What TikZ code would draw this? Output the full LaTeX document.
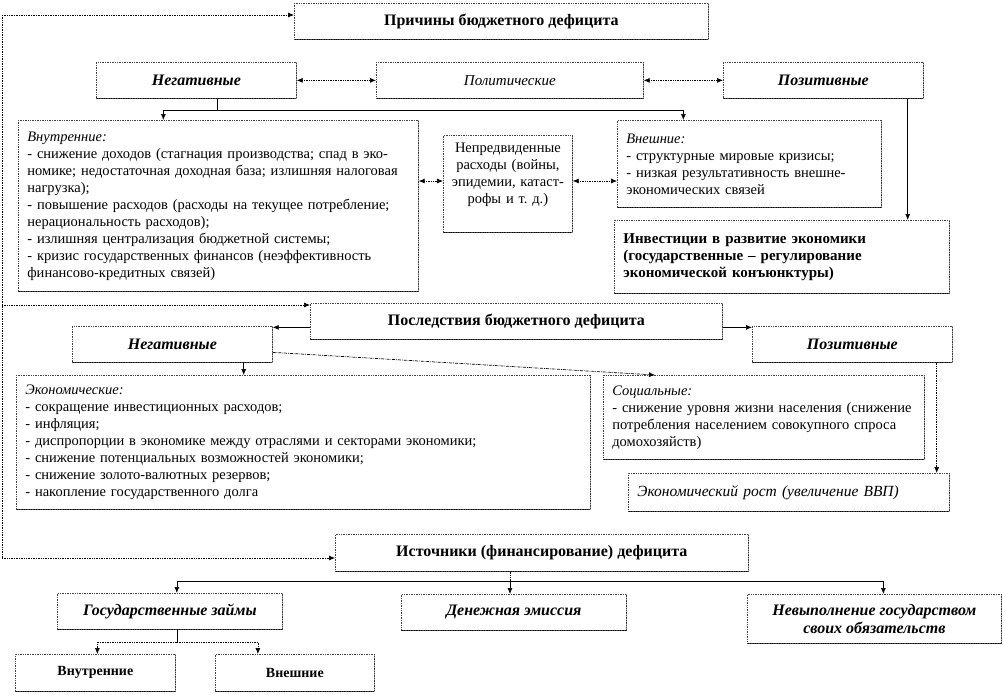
\documentclass[tikz,border=0pt]{standalone}
\usepackage{fontspec}
\setmainfont{Liberation Serif}
\usetikzlibrary{arrows.meta,calc}

\begin{document}
\begin{tikzpicture}[
  x=1pt, y=-1pt,
  font=\fontsize{14.5}{17}\selectfont,
  box/.style={anchor=north west, draw=black!75, densely dotted, line width=0.7pt, inner sep=0pt,
    path picture={\draw[solid, black, line width=1.6pt]
      (path picture bounding box.north east) -- (path picture bounding box.south east)
      -- (path picture bounding box.south west);}},
  head/.style={box, font=\fontsize{16}{18}\selectfont\bfseries},
  kind/.style={box, font=\fontsize{16}{18}\selectfont\bfseries\itshape},
  list/.style={box, align=left, inner xsep=9pt, inner ysep=7pt},
  link/.style={-{Latex[length=6pt,width=5pt]}, line width=0.7pt},
  dlink/.style={link, densely dotted},
  both/.style={{Latex[length=6pt,width=5pt]}-{Latex[length=6pt,width=5pt]}, line width=0.7pt, densely dotted},
]
\useasboundingbox (0,0) rectangle (1003,694);

% Causes
\node[head, minimum width=414pt, minimum height=36pt] (causes) at (294,3) {Причины бюджетного дефицита};
\node[kind, minimum width=200pt, minimum height=36pt] (neg) at (96,62) {Негативные};
\node[box, font=\fontsize{15}{17}\selectfont\itshape, minimum width=267pt, minimum height=36pt] (pol) at (376,62) {Политические};
\node[kind, minimum width=200pt, minimum height=36pt] (pos) at (723,62) {Позитивные};

\node[list, text width=382pt, minimum height=171pt] (inner) at (18,120) {\textit{Внутренние:}\\
- снижение доходов (стагнация производства; спад в эко-\\
номике; недостаточная доходная база; излишняя налоговая\\
нагрузка);\\
- повышение расходов (расходы на текущее потребление;\\
нерациональность расходов);\\
- излишняя централизация бюджетной системы;\\
- кризис государственных финансов (неэффективность\\
финансово-кредитных связей)};
\node[box, align=center, text width=129pt, minimum height=97pt, text depth=73pt] (unf) at (443,135) {Непредвиденные\\ расходы (войны,\\ эпидемии, катаст-\\ рофы и т.~д.)};
\node[list, text width=246pt, minimum height=87pt] (outer) at (617,120) {\textit{Внешние:}\\
- структурные мировые кризисы;\\
- низкая результативность внешне-\\
экономических связей};
\node[list, font=\fontsize{15}{17}\selectfont\bfseries, text width=317pt, minimum height=73pt] (invest) at (614,220) {Инвестиции в развитие экономики\\
(государственные – регулирование\\
экономической конъюнктуры)};

% Effects
\node[head, minimum width=412pt, minimum height=36pt] (effects) at (310,303) {Последствия бюджетного дефицита};
\node[kind, minimum width=200pt, minimum height=36pt] (neg2) at (72,326) {Негативные};
\node[kind, minimum width=200pt, minimum height=36pt] (pos2) at (752,326) {Позитивные};

\node[list, text width=556pt, minimum height=134pt] (econ) at (16,375) {\textit{Экономические:}\\
- сокращение инвестиционных расходов;\\
- инфляция;\\
- диспропорции в экономике между отраслями и секторами экономики;\\
- снижение потенциальных возможностей экономики;\\
- снижение золото-валютных резервов;\\
- накопление государственного долга};
\node[list, text width=303pt, minimum height=84pt] (social) at (603,375) {\textit{Социальные:}\\
- снижение уровня жизни населения (снижение\\
потребления населением совокупного спроса\\
домохозяйств)};
\node[list, font=\fontsize{15.5}{17}\selectfont\itshape, text width=303pt, minimum height=38pt] (growth) at (628,473) {Экономический рост (увеличение ВВП)};

% Sources
\node[head, minimum width=413pt, minimum height=37pt] (src) at (335,534) {Источники (финансирование) дефицита};
\node[kind, minimum width=225pt, minimum height=36pt] (loans) at (57,593) {Государственные займы};
\node[kind, minimum width=225pt, minimum height=36pt] (money) at (401,594) {Денежная эмиссия};
\node[kind, align=center, minimum width=254pt, minimum height=49pt] (nofulfil) at (747,594) {Невыполнение государством\\ своих обязательств};
\node[head, font=\fontsize{14}{17}\selectfont\bfseries, minimum width=160pt, minimum height=37pt] (inb) at (15,654) {Внутренние};
\node[head, font=\fontsize{14}{17}\selectfont\bfseries, minimum width=159pt, minimum height=37pt] (extb) at (215,654) {Внешние};

% Left rail
\coordinate (rail1) at (2,15);
\coordinate (rail2) at (2,305);
\coordinate (rail3) at (2,558);
\draw[densely dotted, line width=0.7pt] (rail1) -- (rail3);
\draw[dlink] (rail1) -- (rail1 -| causes.west);
\draw[dlink] (rail2) -- (rail2 -| effects.west);
\draw[dlink] (rail3) -- (rail3 -| src.west);

% Causes links
\draw[both] (neg.east) -- (pol.west);
\draw[both] (pol.east) -- (pos.west);
\coordinate (fork1) at (217,110);
\draw[line width=0.7pt] (fork1 |- neg.south) -- (fork1);
\draw[link] (fork1) -| ([xshift=-55pt]inner.north);
\draw[link] (fork1) -| ([xshift=-66pt]outer.north);
\draw[both] (inner.east |- 0,181) -- (unf.west |- 0,181);
\draw[both] (unf.east |- 0,181) -- (outer.west |- 0,181);
\draw[link] ([xshift=-16pt]pos.south east) -- ([xshift=-16pt]pos.south east |- invest.north);

% Effects links
\draw[link] ([yshift=-6pt]effects.west) -- ([yshift=-6pt]effects.west -| neg2.east);
\draw[link] ([yshift=-6pt]effects.east) -- ([yshift=-6pt]effects.east -| pos2.west);
\draw[link] ([xshift=-29pt]neg2.south east) -- ([xshift=-29pt]neg2.south east |- econ.north);
\draw[link, densely dash dot] ([yshift=-8pt]neg2.east) -- ([xshift=52pt]social.north west);
\draw[dlink] ([xshift=-16pt]pos2.south east) -- ([xshift=-16pt]pos2.south east |- growth.north);

% Sources links
\coordinate (fork2) at (510,581);
\draw[densely dotted, line width=0.7pt] (fork2 |- src.south) -- (fork2);
\draw[link] (fork2) -- (fork2 |- money.north);
\draw[link] (fork2) -| ([xshift=7pt]loans.north);
\draw[link] (fork2) -| ([xshift=9pt]nofulfil.north);
\coordinate (fork3) at (177,642);
\draw[line width=0.7pt] (fork3 |- loans.south) -- (fork3);
\draw[dlink] (fork3) -| ([xshift=2pt]inb.north);
\draw[dlink] (fork3) -| ([xshift=-37pt]extb.north);

\end{tikzpicture}
\end{document}
